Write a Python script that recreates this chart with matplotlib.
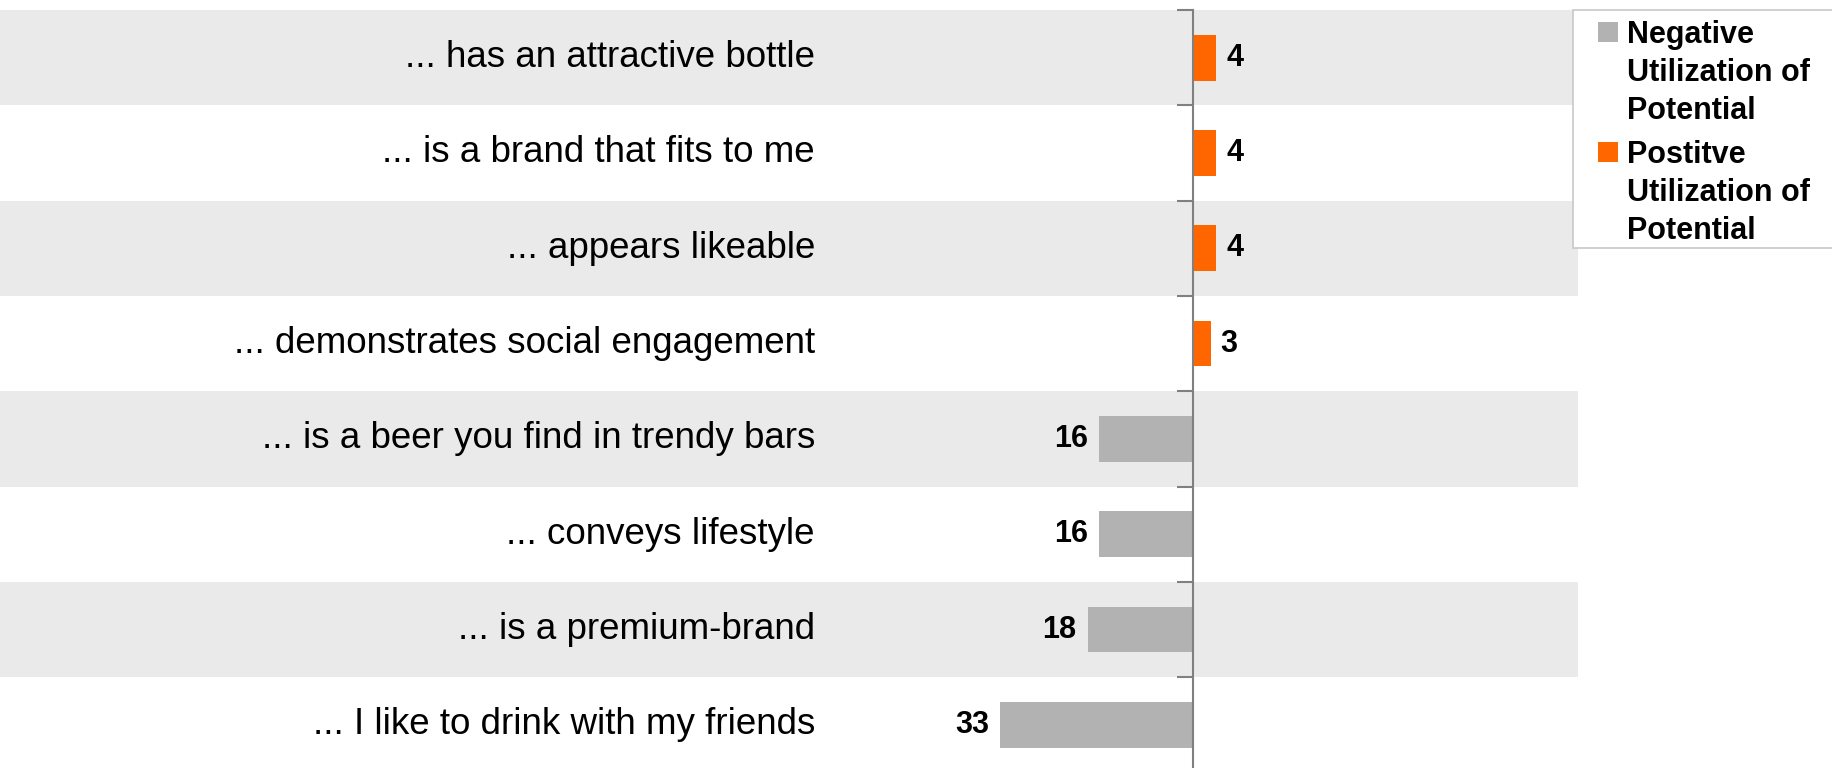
import numpy as np
import matplotlib.pyplot as plt
from matplotlib.patches import Rectangle

plt.rcParams['font.family'] = ['Liberation Sans', 'DejaVu Sans']

# Statements, top to bottom
statements = ["... has an attractive bottle",
              "... is a brand that fits to me",
              "... appears likeable",
              "... demonstrates social engagement",
              "... is a beer you find in trendy bars",
              "... conveys lifestyle",
              "... is a premium-brand",
              "... I like to drink with my friends"]
positive = [4, 4, 4, 3, 0, 0, 0, 0]
negative = [0, 0, 0, 0, 16, 16, 18, 33]
legend_labels = [["Negative", "Utilization of", "Potential"],
                 ["Postitve", "Utilization of", "Potential"]]

grey_bar = "#b2b2b2"
orange = "#ff6600"
band = "#eaeaea"
axis_grey = "#808080"

W, H = 1832, 768
fig = plt.figure(figsize=(W / 100, H / 100), dpi=100, facecolor="white")

# plot area in pixels: x 0..1578, y 10..772
ax = fig.add_axes([0, 1 - 772.5 / H, 1578 / W, 762.5 / H])
ax.set_facecolor("white")

px_per_unit = 5.85
x0 = 1193
ax.set_xlim(-x0 / px_per_unit, (1578 - x0) / px_per_unit)
n = len(statements)
ax.set_ylim(n - 0.5, -0.5)

y = np.arange(n)

# alternating background bands
for i in range(0, n, 2):
    ax.axhspan(i - 0.5, i + 0.5, color=band, lw=0, zorder=0)

neg = -np.array(negative)
pos = np.array(positive)
ax.barh(y, neg, height=0.48, color=grey_bar, zorder=2)
ax.barh(y, pos, height=0.48, color=orange, zorder=2)

for i in range(n):
    if positive[i] > 0:
        ax.annotate(str(positive[i]), (pos[i], y[i]), xytext=(7, 0),
                    textcoords="offset points", ha="left", va="center",
                    fontsize=22, fontweight="bold", color="black")
    if negative[i] > 0:
        ax.annotate(str(negative[i]), (neg[i], y[i]), xytext=(-8, 0),
                    textcoords="offset points", ha="right", va="center",
                    fontsize=22, fontweight="bold", color="black")

# statement labels
for i, s in enumerate(statements):
    ax.text(815 / 1578, y[i], s, transform=ax.get_yaxis_transform(),
            ha="right", va="center", fontsize=26.5, color="black")

# vertical axis through zero with ticks at row boundaries
for side in ["top", "right", "bottom"]:
    ax.spines[side].set_visible(False)
ax.spines["left"].set_position(("data", 0))
ax.spines["left"].set_color(axis_grey)
ax.spines["left"].set_linewidth(1.5)
ax.spines["left"].set_zorder(3)
ax.set_yticks(np.arange(-0.5, n, 1))
ax.set_yticklabels([])
ax.tick_params(axis="y", direction="out", length=11.5, width=1.5,
               color=axis_grey)
ax.set_xticks([])

# legend box
tr = fig.transFigure
def fx(px):
    return px / W
def fy(py):
    return 1 - py / H

fig.patches.append(Rectangle((fx(1573), fy(248)), fx(1845) - fx(1573),
                             fy(10) - fy(248), transform=tr,
                             facecolor="white", edgecolor="#c8c8c8",
                             lw=1.2, zorder=5))
for k, (col, lines) in enumerate(zip([grey_bar, orange], legend_labels)):
    top = 22 + k * 120
    fig.patches.append(Rectangle((fx(1598), fy(top + 20)), fx(1618) - fx(1598),
                                 fy(top) - fy(top + 20), transform=tr,
                                 facecolor=col, edgecolor="none", zorder=6))
    for j, line in enumerate(lines):
        fig.text(fx(1627), fy(top + 21 + j * 38), line, ha="left",
                 va="baseline", fontsize=22, fontweight="bold",
                 color="black", zorder=7)

fig.savefig("out.png", dpi=100)
